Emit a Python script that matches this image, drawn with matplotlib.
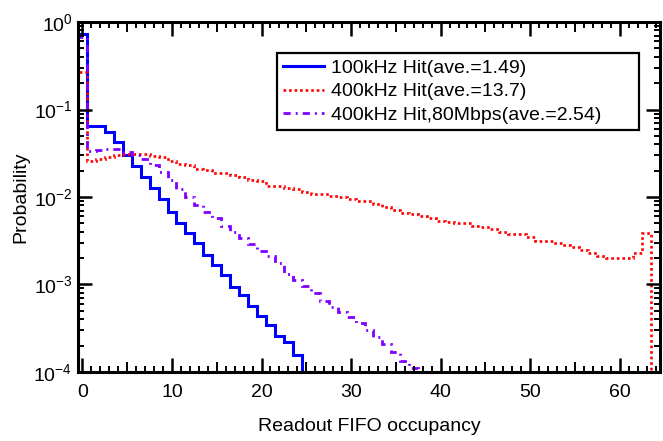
import numpy as np
import matplotlib
matplotlib.use('Agg')
import matplotlib.pyplot as plt
from matplotlib.ticker import MultipleLocator, LogLocator, NullFormatter

plt.rcParams['font.family'] = ['Liberation Sans', 'DejaVu Sans']
plt.rcParams['font.size'] = 14

# probability per FIFO occupancy bin (0, 1, 2, ...)
p_100k = [0.73, 0.065, 0.065, 0.0557, 0.0428, 0.0302, 0.0228, 0.0171, 0.0126,
          0.0095, 0.0068, 0.0051, 0.0039, 0.0030, 0.0022, 0.00167, 0.00128,
          0.00094, 0.00076, 0.00057, 0.00044, 0.00034, 0.00026, 0.00022,
          0.000156, 0.0001]
p_400k = [0.27, 0.0258, 0.027, 0.0289, 0.0302, 0.031, 0.031, 0.031, 0.0294,
          0.0289, 0.0258, 0.0238, 0.0232, 0.0207, 0.0204, 0.019, 0.0188,
          0.0177, 0.0168, 0.0156, 0.0152, 0.0135, 0.0134, 0.0126, 0.0123,
          0.0115, 0.0109, 0.0108, 0.0102, 0.0101, 0.0096, 0.0089, 0.0089,
          0.0083, 0.0076, 0.0071, 0.0066, 0.0064, 0.0061, 0.0057, 0.0053,
          0.0052, 0.0050, 0.0050, 0.0047, 0.0046, 0.0043, 0.0040, 0.0038,
          0.0038, 0.0035, 0.0031, 0.0031, 0.0030, 0.0028, 0.0027, 0.0025,
          0.0023, 0.0021, 0.0020, 0.0020, 0.0020, 0.0023, 0.0039]
p_400k_80m = [0.68, 0.0336, 0.034, 0.0354, 0.0354, 0.033, 0.0302, 0.027,
              0.0232, 0.0195, 0.0156, 0.0124, 0.0101, 0.0081, 0.0067, 0.0057,
              0.0047, 0.0040, 0.0034, 0.0029, 0.0024, 0.0021, 0.00175,
              0.00132, 0.00112, 0.00095, 0.0008, 0.00065, 0.00055, 0.00048,
              0.00043, 0.00036, 0.0003, 0.00025, 0.00021, 0.00017, 0.000135,
              0.00011, 0.0001]
labels = ['100kHz Hit(ave.=1.49)', '400kHz Hit(ave.=13.7)',
          '400kHz Hit,80Mbps(ave.=2.54)']

fig = plt.figure(figsize=(6.63, 4.41), dpi=100)
ax = fig.add_axes([0.1176, 0.1565, 0.8779, 0.7936])


def edges(vals):
    return np.arange(len(vals) + 1) - 0.5


ax.stairs(p_100k, edges(p_100k), baseline=1e-6, color='#0000ff', lw=2.2,
          label=labels[0])
ax.stairs(p_400k, edges(p_400k), baseline=1e-6, color='#ff0000', lw=1.9,
          ls=(0, (1, 1.1)), label=labels[1])
ax.stairs(p_400k_80m, edges(p_400k_80m), baseline=1e-6, color='#7f00ff',
          lw=2.0, ls=(0, (2.6, 1.8, 0.7, 1.8)), label=labels[2])

ax.set_yscale('log')
ax.set_ylim(1e-4, 1)
ax.set_xlim(-0.5, 64.5)

ax.xaxis.set_major_locator(MultipleLocator(10))
ax.xaxis.set_minor_locator(MultipleLocator(1))
ax.yaxis.set_major_locator(LogLocator(base=10, numticks=10))
ax.yaxis.set_minor_locator(LogLocator(base=10, subs=np.arange(2, 10), numticks=10))
ax.yaxis.set_minor_formatter(NullFormatter())

ax.tick_params(which='both', direction='in', top=True, right=True, color='black')
ax.tick_params(which='major', length=10, width=1.8, labelsize=14)
ax.tick_params(which='minor', length=4.5, width=1.4)
ax.tick_params(axis='x', which='major', pad=9)
ax.tick_params(axis='y', which='major', pad=4)

# longer ticks every 5 on the x axis
locs = ax.xaxis.get_minorticklocs()
for loc, t in zip(locs, ax.xaxis.get_minor_ticks(len(locs))):
    if round(loc) % 5 == 0:
        t.tick1line.set_markersize(7.5)
        t.tick2line.set_markersize(7.5)

for s in ax.spines.values():
    s.set_linewidth(2.2)

ax.set_xlabel('Readout FIFO occupancy', fontsize=14, labelpad=12)
ax.set_ylabel('Probability', fontsize=14, labelpad=3)

leg = ax.legend(loc='upper left', bbox_to_anchor=(0.3426, 0.689, 0.621, 0.222),
                mode='expand', borderaxespad=0, fancybox=False, framealpha=1,
                edgecolor='black', fontsize=14, handlelength=2.1,
                handletextpad=0.35, labelspacing=0.32, borderpad=0.3)
leg.get_frame().set_linewidth(1.6)

fig.savefig('out.png', dpi=100)
